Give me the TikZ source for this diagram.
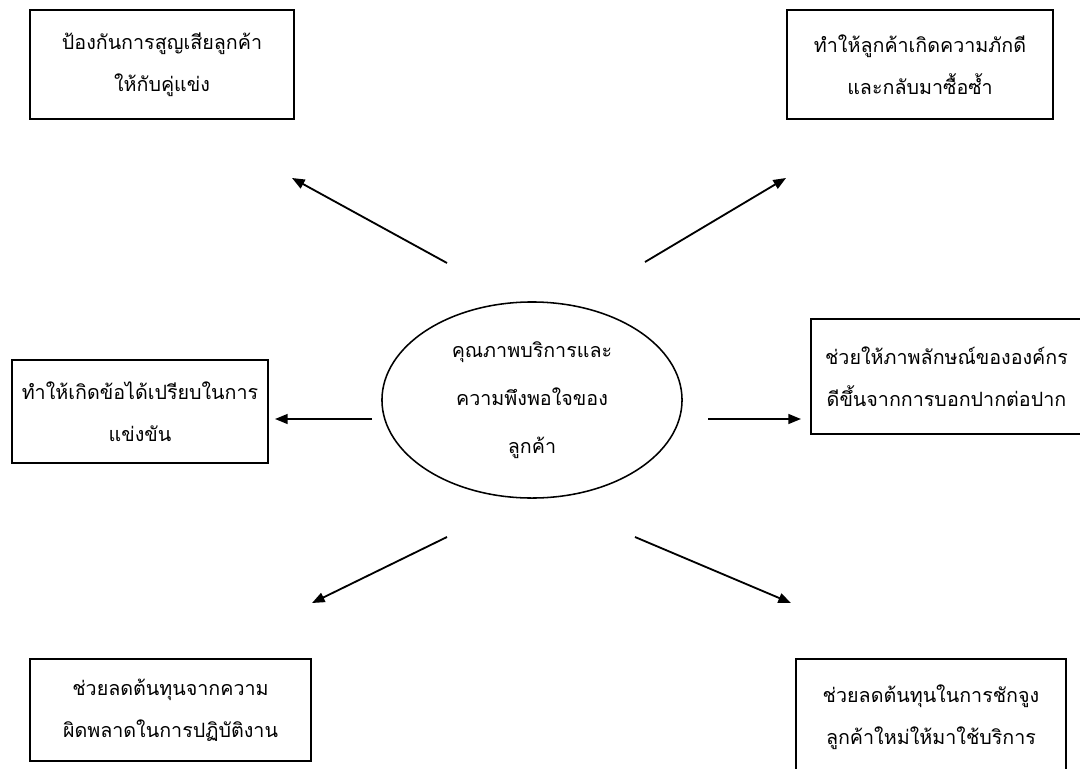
\documentclass[tikz,border=0pt]{standalone}
\usepackage{fontspec}
\newfontfamily\thaifont[Script=Thai]{Loma}
\usetikzlibrary{arrows.meta,shapes.geometric}

\begin{document}
\begin{tikzpicture}[
    x=0.025cm, y=-0.025cm,
    every node/.style={font=\thaifont\fontsize{14}{30}\selectfont, align=center, inner sep=0pt},
    effect/.style={draw, line width=1.1pt},
    core/.style={draw, ellipse, line width=1.1pt, minimum width=7.5cm, minimum height=4.9cm, font=\thaifont\fontsize{14}{34}\selectfont},
    link/.style={line width=1.3pt, -{Triangle[length=9pt, width=7pt]}}
]
\useasboundingbox (0,0) rectangle (1080,769);

% Centre
\node[core] (quality) at (532,400) {คุณภาพบริการและ\\ความพึงพอใจของ\\ลูกค้า};

% Effects
\node[effect, minimum width=6.6cm, minimum height=2.725cm] (loss) at (162,64.5) {ป้องกันการสูญเสียลูกค้า\\ให้กับคู่แข่ง};
\node[effect, minimum width=6.65cm, minimum height=2.725cm] (loyal) at (920,64.5) {ทำให้ลูกค้าเกิดความภักดี\\และกลับมาซื้อซ้ำ};
\node[effect, minimum width=6.4cm, minimum height=2.575cm] (edge) at (140,411.5) {ทำให้เกิดข้อได้เปรียบในการ\\แข่งขัน};
\node[effect, minimum width=6.775cm, minimum height=2.875cm] (image) at (946.5,376.5) {ช่วยให้ภาพลักษณ์ขององค์กร\\ดีขึ้นจากการบอกปากต่อปาก};
\node[effect, minimum width=7.025cm, minimum height=2.55cm] (errors) at (170.5,710) {ช่วยลดต้นทุนจากความ\\ผิดพลาดในการปฏิบัติงาน};
\node[effect, minimum width=6.75cm, minimum height=2.9cm] (recruit) at (931,717) {ช่วยลดต้นทุนในการชักจูง\\ลูกค้าใหม่ให้มาใช้บริการ};

% Arrow ends
\coordinate (loss-from) at (447,263);
\coordinate (loss-to) at (292,178);
\coordinate (loyal-from) at (645,262);
\coordinate (loyal-to) at (786,178);
\coordinate (edge-from) at (372,419);
\coordinate (edge-to) at (275,419);
\coordinate (image-from) at (708,419);
\coordinate (image-to) at (801,419);
\coordinate (errors-from) at (447,537);
\coordinate (errors-to) at (312,603);
\coordinate (recruit-from) at (635,537);
\coordinate (recruit-to) at (791,603);

% Connections
\draw[link] (loss-from) -- (loss-to);
\draw[link] (loyal-from) -- (loyal-to);
\draw[link] (edge-from) -- (edge-to);
\draw[link] (image-from) -- (image-to);
\draw[link] (errors-from) -- (errors-to);
\draw[link] (recruit-from) -- (recruit-to);

\end{tikzpicture}
\end{document}
